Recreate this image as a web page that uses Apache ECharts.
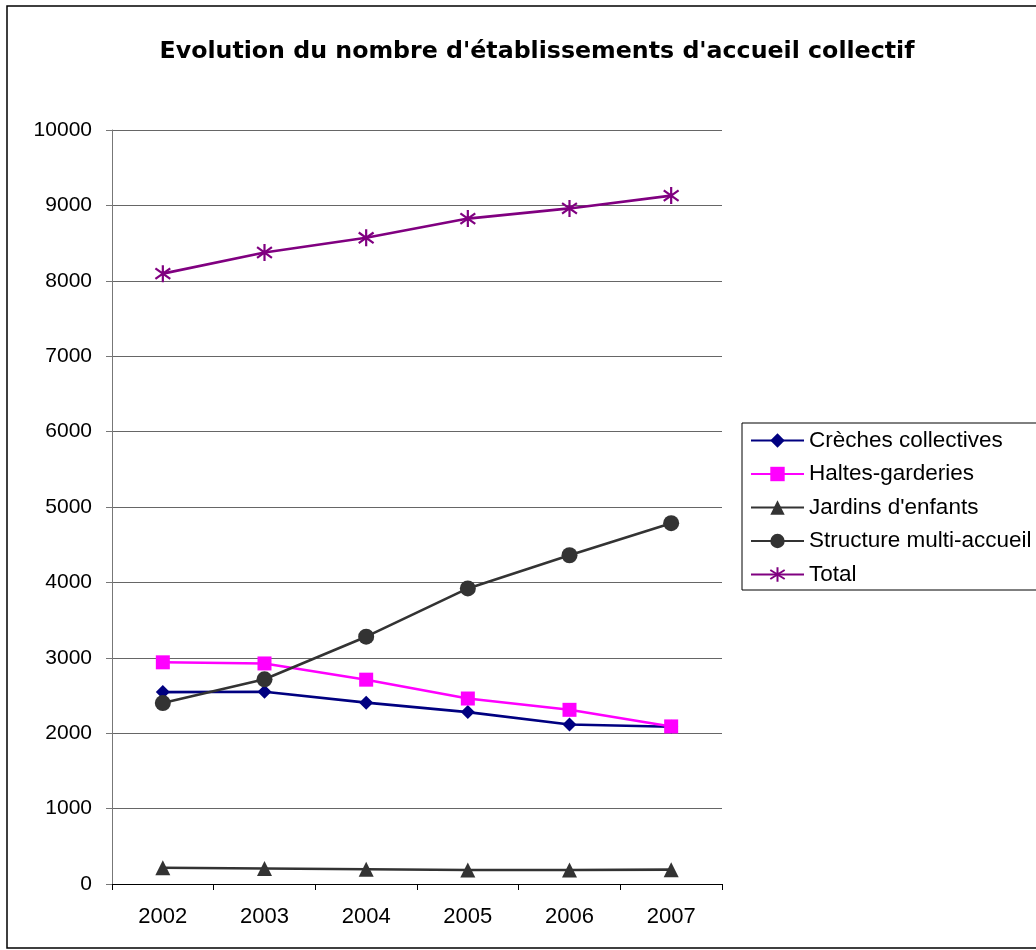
<!DOCTYPE html>
<html>
<head>
<meta charset="utf-8">
<script src="https://cdn.jsdelivr.net/npm/echarts@6/dist/echarts.min.js"></script>
<style>
html,body{margin:0;padding:0;background:#fff;}
#chart{width:1036px;height:950px;}
</style>
</head>
<body>
<div id="chart"></div>
<script>
const titleText = "Evolution du nombre d'établissements d'accueil collectif";
const years = ['2002', '2003', '2004', '2005', '2006', '2007'];
const creches = [2545, 2550, 2405, 2280, 2115, 2085];
const haltes = [2940, 2925, 2710, 2460, 2310, 2090];
const jardins = [215, 205, 195, 185, 185, 190];
const multi = [2400, 2715, 3280, 3920, 4360, 4785];
const total = [8095, 8375, 8570, 8825, 8960, 9130];
const seriesNames = ['Crèches collectives', 'Haltes-garderies', "Jardins d'enfants", 'Structure multi-accueil', 'Total'];

const starPath = 'path://M7,0 L7,16 M0,3 L14,13 M0,13 L14,3';
const font = 'Arial, "Liberation Sans", sans-serif';

function mk(name, data, color, symbol, size, extra) {
  return Object.assign({
    name: name,
    type: 'line',
    data: data,
    symbol: symbol,
    symbolSize: size,
    showAllSymbol: true,
    lineStyle: { color: color, width: 2.6 },
    itemStyle: { color: color },
    animation: false
  }, extra || {});
}

const chart = echarts.init(document.getElementById('chart'));
chart.setOption({
  backgroundColor: '#fff',
  animation: false,
  title: {
    text: titleText,
    left: 532,
    top: 35,
    textAlign: 'center',
    textStyle: { fontFamily: '"DejaVu Sans", sans-serif', fontSize: 23.7, fontWeight: 'bold', color: '#000' }
  },
  graphic: [{
    type: 'rect',
    shape: { x: 7, y: 6, width: 1040, height: 942 },
    style: { fill: 'none', stroke: '#000', lineWidth: 1.5 },
    silent: true
  }],
  legend: {
    orient: 'vertical',
    left: 742,
    top: 423,
    padding: [6, 8, 4, 8],
    itemGap: 10.5,
    itemWidth: 53,
    itemHeight: 18,
    borderColor: '#000',
    borderWidth: 1,
    textStyle: { fontFamily: font, fontSize: 22.5, color: '#000', lineHeight: 22, padding: [0, 0, 0, 0] },
    data: seriesNames
  },
  grid: { left: 112, right: 314, top: 130, bottom: 66, containLabel: false },
  xAxis: {
    type: 'category',
    data: years,
    boundaryGap: true,
    axisLine: { lineStyle: { color: '#000', width: 1 } },
    axisTick: { show: true, alignWithLabel: false, length: 6, lineStyle: { color: '#000' } },
    axisLabel: { fontFamily: font, fontSize: 22, color: '#000', margin: 22 },
    splitLine: { show: false }
  },
  yAxis: {
    type: 'value',
    min: 0,
    max: 10000,
    interval: 1000,
    axisLine: { show: true, lineStyle: { color: '#777', width: 1 } },
    axisTick: { show: true, length: 6, lineStyle: { color: '#777' } },
    axisLabel: { fontFamily: font, fontSize: 21, color: '#000', margin: 20, formatter: function (v) { return String(v); } },
    splitLine: { show: true, lineStyle: { color: '#666', width: 1 } }
  },
  series: [
    mk(seriesNames[0], creches, '#000080', 'diamond', 14),
    mk(seriesNames[1], haltes, '#FF00FF', 'rect', 14),
    mk(seriesNames[2], jardins, '#333333', 'triangle', 15),
    mk(seriesNames[3], multi, '#333333', 'circle', 16),
    mk(seriesNames[4], total, '#800080', starPath, 17, {
      symbolKeepAspect: true,
      itemStyle: { color: '#800080', borderColor: '#800080', borderWidth: 2.2 }
    })
  ]
});
</script>
</body>
</html>
